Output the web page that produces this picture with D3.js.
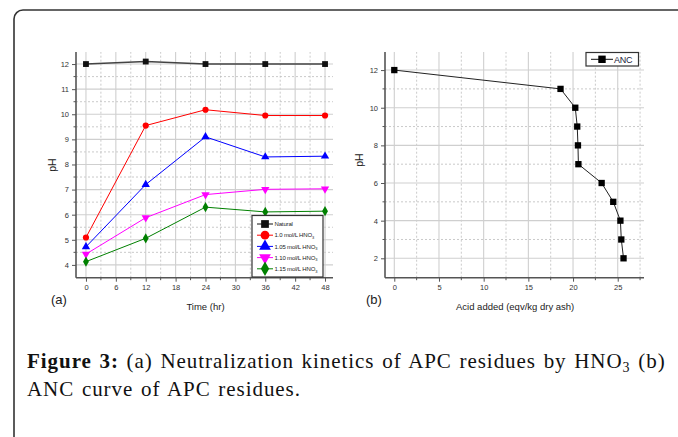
<!DOCTYPE html>
<html>
<head>
<meta charset="utf-8">
<script src="https://cdn.jsdelivr.net/npm/d3@7"></script>
<style>
  body { margin: 0; background: #fff; }
  svg text { font-family: "Liberation Sans", Arial, sans-serif; }
  svg text.caption { font-family: "Liberation Serif", "Times New Roman", serif; letter-spacing: 0.95px; word-spacing: 1.5px; }
</style>
</head>
<body>
<svg id="fig" width="678" height="437"></svg>
<script>
// panel (a) data: pH vs time
var times = [0, 12, 24, 36, 48];
var seriesNames = ["Natural", "1.0 mol/L HNO", "1.05 mol/L HNO", "1.10 mol/L HNO", "1.15 mol/L HNO"];
var natural = [12.0, 12.1, 12.0, 12.0, 12.0];
var hno100 = [5.09, 9.55, 10.18, 9.95, 9.95];
var hno105 = [4.72, 7.2, 9.1, 8.3, 8.33];
var hno110 = [4.43, 5.88, 6.8, 7.01, 7.03];
var hno115 = [4.13, 5.06, 6.3, 6.11, 6.14];
var xTicksA = [0, 6, 12, 18, 24, 30, 36, 42, 48];
var yTicksA = [4, 5, 6, 7, 8, 9, 10, 11, 12];

// panel (b) data: ANC curve
var ancAcid = [0, 18.6, 20.25, 20.47, 20.55, 20.6, 23.2, 24.5, 25.3, 25.4, 25.65];
var ancPH = [12, 11, 10, 9, 8, 7, 6, 5, 4, 3, 2];
var xTicksB = [0, 5, 10, 15, 20, 25];
var yTicksB = [2, 4, 6, 8, 10, 12];

var colors = ["#111", "#ff0000", "#0000ff", "#ff00ff", "#008000"];
var shapes = [d3.symbolSquare, d3.symbolCircle, d3.symbolTriangle, "tridown", d3.symbolDiamond];

var svg = d3.select("#fig");

// frame
svg.append("rect")
    .attr("x", 14).attr("y", 10)
    .attr("width", 720).attr("height", 500)
    .attr("rx", 9)
    .attr("fill", "none")
    .attr("stroke", "#333")
    .attr("stroke-width", 1.6);

function marker(shape, size) {
    if (shape === "tridown") {
        return function() { return d3.symbol(d3.symbolTriangle, size)(); };
    }
    return d3.symbol(shape, size);
}

function drawPanel(opt) {
    var x = opt.x, y = opt.y;
    var g = svg.append("g");
    var x0 = x.range()[0], x1 = x.range()[1];
    var y0 = y.range()[0], y1 = y.range()[1];

    // minor grid (dotted)
    g.selectAll("vminor").data(opt.xMinor).enter().append("line")
        .attr("x1", function(d){ return x(d); }).attr("x2", function(d){ return x(d); })
        .attr("y1", y0).attr("y2", y1)
        .attr("stroke", "#bdbdbd").attr("stroke-width", 0.8).attr("stroke-dasharray", "2,2");
    g.selectAll("hminor").data(opt.yMinor).enter().append("line")
        .attr("y1", function(d){ return y(d); }).attr("y2", function(d){ return y(d); })
        .attr("x1", x0).attr("x2", x1)
        .attr("stroke", "#bdbdbd").attr("stroke-width", 0.8).attr("stroke-dasharray", "2,2");
    // major grid
    g.selectAll("vmajor").data(opt.xTicks).enter().append("line")
        .attr("x1", function(d){ return x(d); }).attr("x2", function(d){ return x(d); })
        .attr("y1", y0).attr("y2", y1)
        .attr("stroke", "#cfcfcf").attr("stroke-width", 1.1);
    g.selectAll("hmajor").data(opt.yTicks).enter().append("line")
        .attr("y1", function(d){ return y(d); }).attr("y2", function(d){ return y(d); })
        .attr("x1", x0).attr("x2", x1)
        .attr("stroke", "#cfcfcf").attr("stroke-width", 1.1);

    // axes
    var ax = g.append("g").attr("transform", "translate(0," + y0 + ")")
        .call(d3.axisBottom(x).tickValues(opt.xTicks).tickSize(4).tickPadding(3).tickFormat(d3.format("d")));
    var ay = g.append("g").attr("transform", "translate(" + x0 + ",0)")
        .call(d3.axisLeft(y).tickValues(opt.yTicks).tickSize(4).tickPadding(3).tickFormat(d3.format("d")));
    [ax, ay].forEach(function(a) {
        a.select(".domain").attr("stroke", "#555").attr("stroke-width", 1.6);
        a.selectAll(".tick line").attr("stroke", "#555").attr("stroke-width", 1);
        a.selectAll(".tick text").attr("font-size", 7.5).attr("fill", "#333");
    });
    ax.select(".domain").attr("d", "M" + x0 + ",0H" + x1);
    ay.select(".domain").attr("d", "M0," + y0 + "V" + y1);
    g.selectAll("xminort").data(opt.xMinor).enter().append("line")
        .attr("x1", function(d){ return x(d); }).attr("x2", function(d){ return x(d); })
        .attr("y1", y0).attr("y2", y0 + 2.5).attr("stroke", "#555");
    g.selectAll("yminort").data(opt.yMinor).enter().append("line")
        .attr("y1", function(d){ return y(d); }).attr("y2", function(d){ return y(d); })
        .attr("x1", x0).attr("x2", x0 - 2.5).attr("stroke", "#555");

    // titles
    g.append("text").attr("x", (x(opt.xTicks[0]) + x1) / 2 + opt.xtOff).attr("y", 310)
        .attr("text-anchor", "middle").attr("font-size", 9.5).attr("fill", "#222")
        .text(opt.xTitle);
    g.append("text")
        .attr("transform", "translate(" + opt.ytX + "," + opt.ytY + ") rotate(-90)")
        .attr("text-anchor", "middle").attr("font-size", 10.5).attr("fill", "#222")
        .text("pH");
    g.append("text").attr("x", opt.labX).attr("y", 304)
        .attr("font-size", 13).attr("fill", "#222").text(opt.label);
    return g;
}

// ---------- panel (a)
var xa = d3.scaleLinear().domain([-2, 49.6]).range([76, 333]);
var ya = d3.scaleLinear().domain([3.49, 12.48]).range([277.7, 52]);
var ga = drawPanel({
    x: xa, y: ya,
    xTicks: xTicksA, yTicks: yTicksA,
    xMinor: [3, 9, 15, 21, 27, 33, 39, 45],
    yMinor: [4.5, 5.5, 6.5, 7.5, 8.5, 9.5, 10.5, 11.5],
    xTitle: "Time (hr)", xtOff: -4, ytX: 56, ytY: 165,
    label: "(a)", labX: 51
});

var seriesA = [natural, hno100, hno105, hno110, hno115];
var lineA = d3.line().x(function(d, i){ return xa(times[i]); }).y(function(d){ return ya(d); });
seriesA.forEach(function(vals, k) {
    ga.append("path").datum(vals)
        .attr("d", lineA)
        .attr("fill", "none")
        .attr("stroke", k === 0 ? "#444" : colors[k])
        .attr("stroke-width", k === 0 ? 1.5 : 1);
    ga.selectAll("pt" + k).data(vals).enter().append("path")
        .attr("d", marker(shapes[k], k === 0 ? 34 : 30))
        .attr("transform", function(d, i) {
            return "translate(" + xa(times[i]) + "," + ya(d) + ")" + (shapes[k] === "tridown" ? " rotate(180)" : "");
        })
        .attr("fill", colors[k]);
});

// legend (a)
var lega = ga.append("g");
lega.append("rect").attr("x", 252).attr("y", 215.5).attr("width", 71).attr("height", 61.5)
    .attr("fill", "#fff").attr("stroke", "#333").attr("stroke-width", 1.2);
seriesNames.forEach(function(name, k) {
    var ly = 224 + k * 11.2;
    lega.append("line").attr("x1", 257).attr("x2", 273).attr("y1", ly).attr("y2", ly)
        .attr("stroke", colors[k]).attr("stroke-width", 1);
    lega.append("path").attr("d", marker(shapes[k], 60)())
        .attr("transform", "translate(265," + ly + ")" + (shapes[k] === "tridown" ? " rotate(180)" : ""))
        .attr("fill", colors[k]);
    var t = lega.append("text").attr("x", 274.5).attr("y", ly + 2.2).attr("font-size", 6).attr("fill", "#222")
        .attr("letter-spacing", -0.15).text(name);
    if (k > 0) {
        t.append("tspan").attr("font-size", 4).attr("dy", 1.6).text("3");
    }
});

// ---------- panel (b)
var xb = d3.scaleLinear().domain([-1.04, 27.94]).range([385, 644]);
var yb = d3.scaleLinear().domain([0.97, 12.96]).range([277.7, 52]);
var gb = drawPanel({
    x: xb, y: yb,
    xTicks: xTicksB, yTicks: yTicksB,
    xMinor: [2.5, 7.5, 12.5, 17.5, 22.5, 27.5],
    yMinor: [3, 5, 7, 9, 11],
    xTitle: "Acid added (eqv/kg dry ash)", xtOff: -4, ytX: 363, ytY: 160,
    label: "(b)", labX: 366
});
var ancPts = ancAcid.map(function(a, i){ return [a, ancPH[i]]; });
gb.append("path").datum(ancPts)
    .attr("d", d3.line().x(function(d){ return xb(d[0]); }).y(function(d){ return yb(d[1]); }))
    .attr("fill", "none").attr("stroke", "#222").attr("stroke-width", 1);
gb.selectAll("anc").data(ancPts).enter().append("path")
    .attr("d", d3.symbol(d3.symbolSquare, 40))
    .attr("transform", function(d){ return "translate(" + xb(d[0]) + "," + yb(d[1]) + ")"; })
    .attr("fill", "#000");

// legend (b)
gb.append("rect").attr("x", 586).attr("y", 52.5).attr("width", 52.5).attr("height", 13.5)
    .attr("fill", "#fff").attr("stroke", "#333").attr("stroke-width", 1.2);
gb.append("line").attr("x1", 591).attr("x2", 613).attr("y1", 59.3).attr("y2", 59.3).attr("stroke", "#111");
gb.append("path").attr("d", d3.symbol(d3.symbolSquare, 55)())
    .attr("transform", "translate(602,59.3)").attr("fill", "#000");
gb.append("text").attr("x", 614).attr("y", 62.5).attr("font-size", 9).attr("fill", "#1a1a3a")
    .attr("letter-spacing", -0.3).text("ANC");

// ---------- caption
var cap = svg.append("text").attr("class", "caption").attr("x", 27).attr("y", 368)
    .attr("font-size", 21).attr("fill", "#111");
cap.append("tspan").attr("font-weight", "bold").text("Figure 3:");
cap.append("tspan").text(" (a) Neutralization kinetics of APC residues by HNO");
cap.append("tspan").attr("font-size", 14).attr("dy", 4).text("3");
cap.append("tspan").attr("dy", -4).text(" (b)");
svg.append("text").attr("class", "caption").attr("x", 27).attr("y", 396)
    .attr("font-size", 21).attr("fill", "#111")
    .text("ANC curve of APC residues.");
</script>
</body>
</html>
